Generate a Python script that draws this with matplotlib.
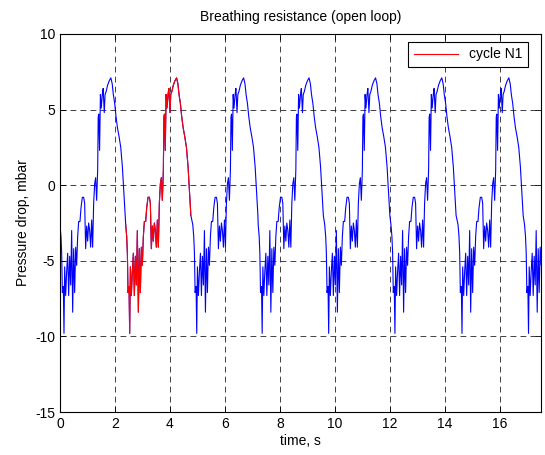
import numpy as np
import matplotlib.pyplot as plt

plt.rcParams['font.family'] = ['Liberation Sans', 'DejaVu Sans']
plt.rcParams['axes.unicode_minus'] = False

# one breathing cycle: time from cycle start (s), pressure (mbar)
cycle_t = [0.000, 0.036, 0.061, 0.085, 0.121, 0.145, 0.170, 0.206, 0.242, 0.279,
           0.315, 0.352, 0.388, 0.424, 0.461, 0.497, 0.533, 0.570, 0.606, 0.642,
           0.679, 0.727, 0.764, 0.812, 0.861, 0.897, 0.933, 0.970, 1.006, 1.042,
           1.079, 1.115, 1.152, 1.188, 1.224, 1.261, 1.297, 1.333, 1.370, 1.390,
           1.410, 1.440, 1.470, 1.500, 1.540, 1.570, 1.610, 1.640, 1.680, 1.730,
           1.790, 1.850, 1.900, 1.940, 1.990, 2.040, 2.090, 2.150, 2.210, 2.270,
           2.310, 2.350, 2.370]
cycle_p = [-2.6, -3.4, -4.5, -7.1, -6.7, -9.8, -5.4, -7.3, -5.7, -4.5,
           -7.3, -4.7, -6.6, -3.0, -8.4, -4.2, -7.1, -4.1, -5.3, -3.4,
           -2.4, -2.4, -1.5, -0.8, -0.8, -1.2, -4.2, -2.7, -3.7, -2.5,
           -3.0, -4.1, -2.3, -4.1, -1.2, 0.1, 0.5, -1.0, 1.0, 4.5,
           4.7, 2.3, 6.0, 5.1, 6.0, 6.4, 4.8, 6.0, 6.2, 6.6,
           6.9, 7.1, 6.7, 6.0, 5.4, 4.5, 3.8, 3.2, 2.5, 1.2,
           -0.1, -1.3, -2.0]

# start time of each cycle in the record (s)
cycle_starts = [0.0, 2.39, 4.83, 7.21, 9.63, 12.04, 14.48, 16.90]
red_cycle = 1

ct = np.array(cycle_t)
cp = np.array(cycle_p)
time = np.concatenate([s + ct for s in cycle_starts])
pressure = np.concatenate([cp for s in cycle_starts])

fig = plt.figure(figsize=(5.45, 4.55), dpi=100)
ax = fig.add_axes([0.1101, 0.0945, 0.8826, 0.8308])

ax.plot(time, pressure, color='#0000ff', lw=0.8)
ax.plot(cycle_starts[red_cycle] + ct, cp, color='#ff0000', lw=0.8, label='cycle N1')

ax.set_xlim(0, 17.5)
ax.set_ylim(-15, 10)
ax.set_xticks(np.arange(0, 17, 2))
ax.set_yticks(np.arange(-15, 11, 5))

ax.grid(True, color='#222222', linestyle=(0, (7, 5)), lw=0.6)
ax.tick_params(direction='in', top=True, right=True, labelsize=10, length=4, width=0.6)
for sp in ax.spines.values():
    sp.set_linewidth(0.8)

ax.set_title('Breathing resistance (open loop)', fontsize=10, pad=9)
ax.set_xlabel('time, s', fontsize=10, labelpad=2)
ax.set_ylabel('Pressure drop, mbar', fontsize=10)

leg = ax.legend(loc='upper right', bbox_to_anchor=(0.973, 0.979), borderaxespad=0,
                fontsize=10, fancybox=False, framealpha=1, edgecolor='black',
                handlelength=3.2)
leg.get_frame().set_linewidth(0.8)

fig.savefig('out.png', dpi=100)
